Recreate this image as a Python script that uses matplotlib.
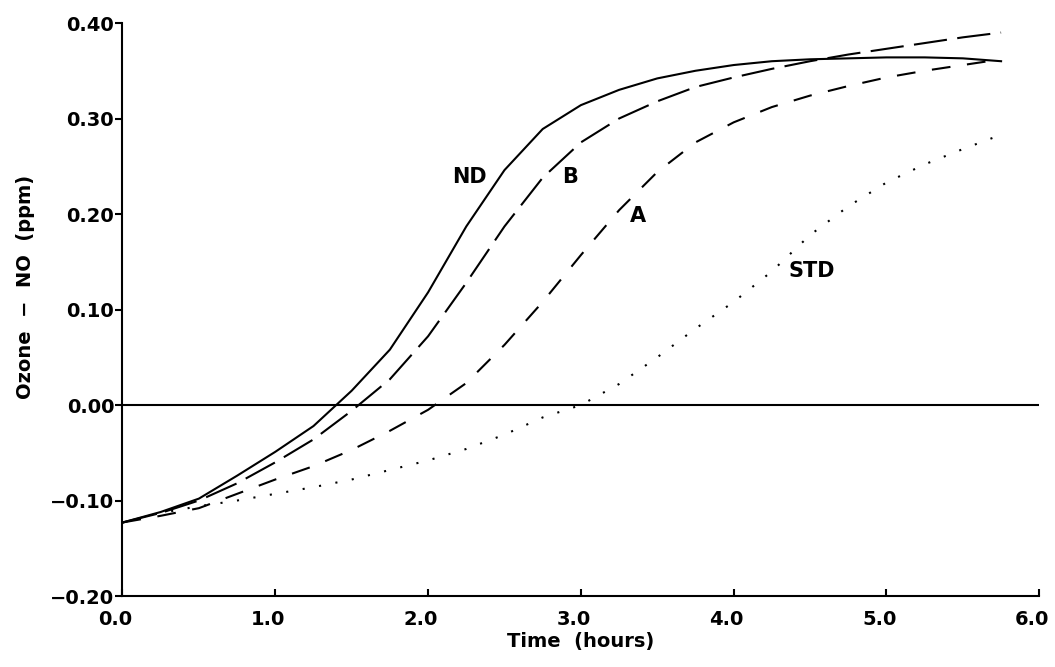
import matplotlib
matplotlib.use("Agg")
import matplotlib.pyplot as plt
import matplotlib.transforms as mtransforms

hours = [0.0, 0.25, 0.5, 0.75, 1.0, 1.25, 1.5, 1.75, 2.0, 2.25, 2.5, 2.75,
         3.0, 3.25, 3.5, 3.75, 4.0, 4.25, 4.5, 4.75, 5.0, 5.25, 5.5, 5.75]

nd = [-0.123, -0.112, -0.098, -0.074, -0.049, -0.022, 0.015, 0.058, 0.118,
      0.187, 0.246, 0.289, 0.314, 0.330, 0.342, 0.350, 0.356, 0.360, 0.362,
      0.363, 0.364, 0.364, 0.363, 0.360]
b = [-0.123, -0.113, -0.100, -0.082, -0.060, -0.036, -0.006, 0.027, 0.072,
     0.128, 0.187, 0.238, 0.275, 0.300, 0.318, 0.333, 0.343, 0.352, 0.360,
     0.367, 0.373, 0.379, 0.385, 0.390]
a = [-0.123, -0.116, -0.108, -0.093, -0.078, -0.064, -0.047, -0.027, -0.005,
     0.023, 0.063, 0.108, 0.157, 0.204, 0.244, 0.275, 0.296, 0.312, 0.324,
     0.334, 0.343, 0.350, 0.356, 0.362]
std = [-0.123, -0.113, -0.106, -0.100, -0.093, -0.086, -0.078, -0.068, -0.058,
       -0.046, -0.031, -0.013, 0.000, 0.022, 0.050, 0.080, 0.108, 0.140, 0.178,
       0.208, 0.233, 0.252, 0.268, 0.283]

x_ticks = [0, 1, 2, 3, 4, 5, 6]
x_tick_labels = ["0.0", "1.0", "2.0", "3.0", "4.0", "5.0", "6.0"]
y_ticks = [-0.2, -0.1, 0.0, 0.1, 0.2, 0.3, 0.4]
y_tick_labels = ["\u22120.20", "\u22120.10", "0.00", "0.10", "0.20", "0.30", "0.40"]

labels = ["ND", "B", "A", "STD"]
label_pos = [(2.268, 0.239), (2.928, 0.239), (3.376, 0.198), (4.51, 0.140)]

plt.rcParams['font.family'] = ['DejaVu Sans']

fig = plt.figure(figsize=(10.55, 6.67), dpi=100)
ax = fig.add_axes([0.1161, 0.1064, 0.8690, 0.8591])

lw = 1.5
ax.plot(hours, nd, color="black", lw=lw, linestyle="-")
ax.plot(hours, b, color="black", lw=lw, linestyle=(0, (16, 5)))
ax.plot(hours, a, color="black", lw=lw, linestyle=(0, (9, 8)))
ax.plot(hours, std, color="black", lw=lw, linestyle=(0, (1, 7)))

ax.axhline(0.0, color="black", lw=1.5)

for lab, (lx, ly) in zip(labels, label_pos):
    ax.text(lx, ly, lab, ha="center", va="center", fontsize=15,
            fontweight="bold")

ax.set_xlim(0, 6)
ax.set_ylim(-0.2, 0.4)

ax.spines["top"].set_visible(False)
ax.spines["right"].set_visible(False)
ax.spines["left"].set_linewidth(1.5)
ax.spines["bottom"].set_linewidth(1.5)
ax.tick_params(axis="x", direction="in", length=5, width=1.5, pad=10)
ax.tick_params(axis="y", direction="out", length=5, width=1.5, pad=1)

ax.set_xticks(x_ticks)
ax.set_xticklabels(x_tick_labels, fontsize=14, fontweight="bold")
ax.set_yticks(y_ticks)
ax.set_yticklabels(y_tick_labels, fontsize=14, fontweight="bold")

shift = mtransforms.ScaledTranslation(-0.07, 0, fig.dpi_scale_trans)
for tk in ax.xaxis.get_major_ticks():
    tk.label1.set_transform(tk.label1.get_transform() + shift)

ax.set_xlabel("Time  (hours)", fontsize=14, fontweight="bold", labelpad=2)
ax.set_ylabel("Ozone  \u2212  NO  (ppm)", fontsize=14, fontweight="bold")
ax.yaxis.set_label_coords(-0.095, 0.54)

fig.savefig("out.png", dpi=100)
